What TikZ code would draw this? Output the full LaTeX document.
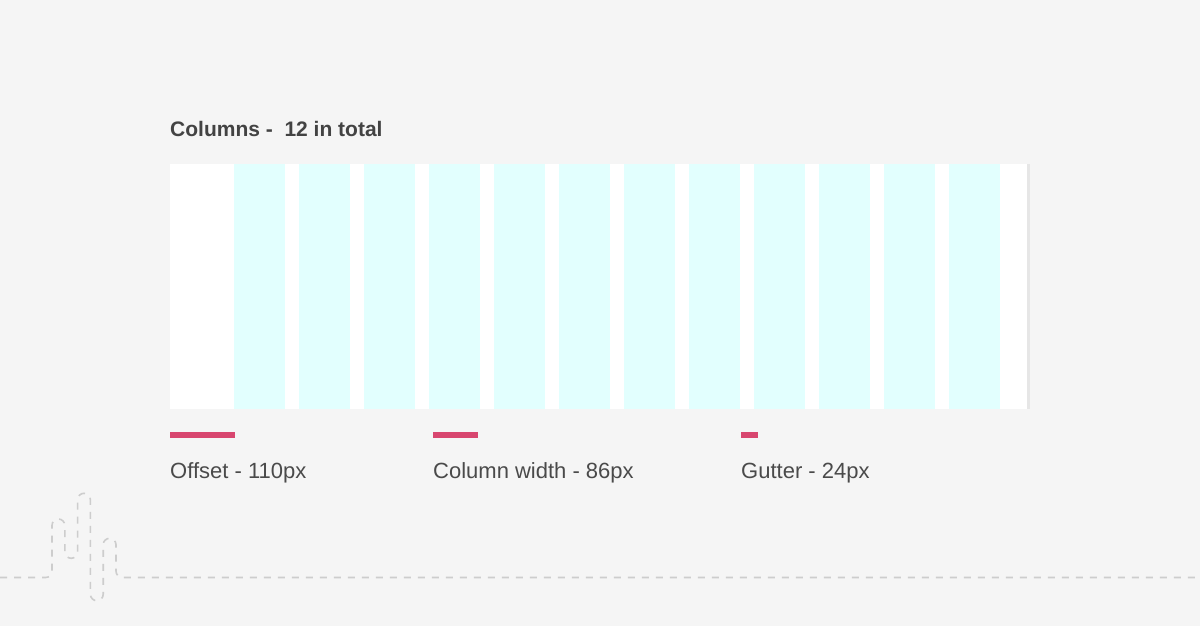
\documentclass[tikz,border=0pt]{standalone}
\usepackage{fontspec}
\setmainfont{Liberation Sans}
\definecolor{bgcol}{HTML}{F5F5F5}
\definecolor{colcyan}{HTML}{E2FFFE}
\definecolor{pinkbar}{HTML}{D8466F}
\definecolor{titlecol}{HTML}{434343}
\definecolor{labelcol}{HTML}{4A4A4A}
\definecolor{dashcol}{HTML}{CDCDCD}
\definecolor{shadowcol}{HTML}{E6E6E6}
\tikzset{
  colbox/.style={fill=colcyan, draw=none},
  measurebar/.style={fill=pinkbar, draw=none},
  labeltext/.style={anchor=base west, inner sep=0pt, text=labelcol, font=\fontsize{22}{26}\selectfont},
  titletext/.style={anchor=base west, inner sep=0pt, text=titlecol, font=\bfseries\fontsize{21}{25}\selectfont},
  dashline/.style={draw=dashcol, line width=1.6pt, dash pattern=on 7pt off 7pt, rounded corners=6.4pt}
}
\begin{document}
\begin{tikzpicture}[x=1pt, y=-1pt]
\useasboundingbox (0,0) rectangle (1200,626);
\fill[bgcol] (0,0) rectangle (1200,626);
% panel
\fill[shadowcol] (1026,164) rectangle (1029.5,409);
\fill[white] (170,164) rectangle (1027,409);
\foreach \i in {0,...,11} {
  \fill[colbox] ({234.3+64.95*\i},164) rectangle ({285.3+64.95*\i},409);
}
% title
\node[titletext] (title) at (170,136) {Columns -\ \ 12 in total};
% measure bars
\fill[measurebar] (170,432) rectangle (235,438);
\fill[measurebar] (433,432) rectangle (478,438);
\fill[measurebar] (741,432) rectangle (758,438);
% labels
\node[labeltext] (offset) at (170,478) {Offset - 110px};
\node[labeltext] (colwidth) at (433,478) {Column width - 86px};
\node[labeltext] (gutter) at (741,478) {Gutter - 24px};
% dashed squiggle
\draw[dashline] (0,577.5) -- (52,577.5) -- (52,519) -- (64.8,519) -- (64.8,558.3)
  -- (77.6,558.3) -- (77.6,493.3) -- (90.4,493.3) -- (90.4,600.7) -- (103.2,600.7)
  -- (103.2,538.3) -- (116,538.3) -- (116,577.5) -- (1200,577.5);
\end{tikzpicture}
\end{document}
